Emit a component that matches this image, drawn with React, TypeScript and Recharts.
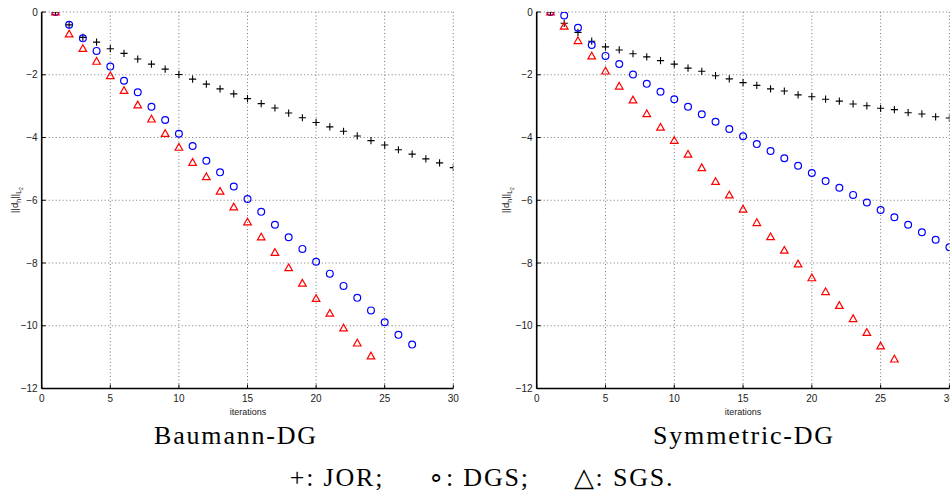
import React from 'react';
import { ScatterChart, Scatter, XAxis, YAxis, CartesianGrid } from 'recharts';

// ---------- data ----------
const iterations = [1, 2, 3, 4, 5, 6, 7, 8, 9, 10, 11, 12, 13, 14, 15, 16, 17, 18, 19, 20, 21, 22, 23, 24, 25, 26, 27, 28, 29, 30];

const baumannJOR = [0, -0.41, -0.81, -0.96, -1.17, -1.32, -1.5, -1.66, -1.82, -1.99, -2.14, -2.3, -2.45, -2.61, -2.76, -2.92, -3.06, -3.22, -3.37, -3.52, -3.66, -3.8, -3.95, -4.1, -4.24, -4.39, -4.53, -4.68, -4.81, -4.96];
const baumannDGS = [0, -0.41, -0.84, -1.24, -1.74, -2.19, -2.56, -3.02, -3.44, -3.88, -4.27, -4.74, -5.11, -5.56, -5.96, -6.37, -6.78, -7.18, -7.55, -7.96, -8.34, -8.73, -9.11, -9.51, -9.89, -10.29, -10.6];
const baumannSGS = [0, -0.7, -1.16, -1.57, -2.03, -2.5, -2.96, -3.41, -3.87, -4.31, -4.79, -5.25, -5.71, -6.21, -6.69, -7.17, -7.66, -8.15, -8.64, -9.13, -9.6, -10.07, -10.55, -10.96];

const symmetricJOR = [0, -0.36, -0.65, -0.93, -1.11, -1.21, -1.33, -1.43, -1.55, -1.66, -1.79, -1.89, -2.03, -2.13, -2.25, -2.34, -2.45, -2.52, -2.64, -2.7, -2.78, -2.84, -2.93, -2.99, -3.07, -3.11, -3.21, -3.25, -3.34, -3.38];
const symmetricDGS = [0, -0.11, -0.5, -1.05, -1.4, -1.66, -1.99, -2.29, -2.54, -2.78, -3.02, -3.26, -3.5, -3.73, -3.96, -4.21, -4.43, -4.66, -4.9, -5.13, -5.39, -5.6, -5.83, -6.07, -6.31, -6.54, -6.78, -7.02, -7.26, -7.5];
const symmetricSGS = [0, -0.45, -0.91, -1.4, -1.88, -2.36, -2.8, -3.24, -3.67, -4.09, -4.53, -4.96, -5.4, -5.83, -6.28, -6.71, -7.16, -7.59, -8.03, -8.47, -8.91, -9.35, -9.77, -10.21, -10.64, -11.06];

const xTicks = [0, 5, 10, 15, 20, 25, 30];
const yTicks = [-12, -10, -8, -6, -4, -2, 0];
const xDomain = [0, 30];
const yDomain = [-12, 0];

const panelTitles = ['Baumann-DG', 'Symmetric-DG'];
const xLabel = 'iterations';

// ---------- styling ----------
const FONT = '"Liberation Sans", Arial, Helvetica, sans-serif';
const SERIF = '"Liberation Serif", "Times New Roman", serif';
const TL = 4;
const AXIS_W = 1.6;

const fmt = (v: number) => (v < 0 ? '\u2212' + -v : String(v));

const toPoints = (vals: number[]) => vals.map((v, i) => ({ x: iterations[i], y: v }));

const BottomTick = (p: any) => (
  <g>
    <line x1={p.x} y1={p.y} x2={p.x} y2={p.y - TL} stroke="#000" strokeWidth={1} />
    <text x={p.x} y={p.y + 13} textAnchor="middle" fontSize={10} fontFamily={FONT} fill="#222">
      {fmt(p.payload.value)}
    </text>
  </g>
);
const TopTick = (p: any) => (
  <line x1={p.x} y1={p.y} x2={p.x} y2={p.y + TL} stroke="#000" strokeWidth={1} />
);
const LeftTick = (p: any) => (
  <g>
    <line x1={p.x} y1={p.y} x2={p.x + TL} y2={p.y} stroke="#000" strokeWidth={1} />
    <text x={p.x - 4} y={p.y + 3.6} textAnchor="end" fontSize={10} fontFamily={FONT} fill="#222">
      {fmt(p.payload.value)}
    </text>
  </g>
);
const RightTick = (p: any) => (
  <line x1={p.x} y1={p.y} x2={p.x - TL} y2={p.y} stroke="#000" strokeWidth={1} />
);

const PlusShape = (p: any) => {
  const { cx, cy } = p;
  const s = 3.6;
  return <path d={`M${cx - s},${cy}H${cx + s}M${cx},${cy - s}V${cy + s}`} stroke="#000" strokeWidth={1.1} fill="none" />;
};
const CircleShape = (p: any) => (
  <circle cx={p.cx} cy={p.cy} r={3.4} stroke="#0000ff" strokeWidth={1.2} fill="none" />
);
const TriangleShape = (p: any) => {
  const { cx, cy } = p;
  return (
    <polygon
      points={`${cx},${cy - 3.7} ${cx - 3.8},${cy + 3} ${cx + 3.8},${cy + 3}`}
      stroke="#ff0000"
      strokeWidth={1.2}
      fill="none"
    />
  );
};

const CHART_W = 470;
const CHART_H = 420;

function Panel(props: { left: number; marginLeft: number; marginRight: number; jor: number[]; dgs: number[]; sgs: number[] }) {
  const { left, marginLeft, marginRight, jor, dgs, sgs } = props;
  return (
    <div style={{ position: 'absolute', left, top: 0 }}>
      <ScatterChart
        width={CHART_W}
        height={CHART_H}
        margin={{ top: 12, right: marginRight, bottom: 11.5, left: marginLeft }}
      >
        <CartesianGrid xAxisId="b" yAxisId="l" stroke="#777" strokeDasharray="1 2.5" strokeWidth={1} />
        <XAxis
          xAxisId="b"
          dataKey="x"
          type="number"
          orientation="bottom"
          domain={xDomain}
          ticks={xTicks}
          interval={0}
          height={20}
          tickSize={0}
          tickMargin={0}
          tickLine={false}
          tick={<BottomTick />}
          axisLine={{ stroke: '#000', strokeWidth: AXIS_W }}
          allowDataOverflow
        />
        <XAxis
          xAxisId="t"
          type="number"
          orientation="top"
          domain={xDomain}
          ticks={xTicks}
          interval={0}
          height={0}
          tickSize={0}
          tickMargin={0}
          tickLine={false}
          tick={<TopTick />}
          axisLine={{ stroke: '#000', strokeWidth: AXIS_W }}
          allowDataOverflow
        />
        <YAxis
          yAxisId="l"
          dataKey="y"
          type="number"
          orientation="left"
          domain={yDomain}
          ticks={yTicks}
          interval={0}
          width={30}
          tickSize={0}
          tickMargin={0}
          tickLine={false}
          tick={<LeftTick />}
          axisLine={{ stroke: '#000', strokeWidth: AXIS_W }}
          allowDataOverflow
        />
        <YAxis
          yAxisId="r"
          type="number"
          orientation="right"
          domain={yDomain}
          ticks={yTicks}
          interval={0}
          width={0}
          tickSize={0}
          tickMargin={0}
          tickLine={false}
          tick={<RightTick />}
          axisLine={{ stroke: '#000', strokeWidth: AXIS_W }}
          allowDataOverflow
        />
        <Scatter xAxisId="b" yAxisId="l" name="JOR" data={toPoints(jor)} shape={<PlusShape />} isAnimationActive={false} />
        <Scatter xAxisId="b" yAxisId="l" name="DGS" data={toPoints(dgs)} shape={<CircleShape />} isAnimationActive={false} />
        <Scatter xAxisId="b" yAxisId="l" name="SGS" data={toPoints(sgs)} shape={<TriangleShape />} isAnimationActive={false} />
      </ScatterChart>
    </div>
  );
}

const YLabel = ({ x }: { x: number }) => (
  <div
    style={{
      position: 'absolute',
      left: x,
      top: 200,
      transform: 'translate(-50%, -50%) rotate(-90deg)',
      fontFamily: FONT,
      fontSize: 9.5,
      lineHeight: 1,
      whiteSpace: 'nowrap',
      color: '#222',
    }}
  >
    ||d<sub style={{ fontSize: 7, verticalAlign: '-3px' }}>h</sub>||
    <sub style={{ fontSize: 7, verticalAlign: '-3px' }}>
      L<sub style={{ fontSize: 5, verticalAlign: '-2px' }}>2</sub>
    </sub>
  </div>
);

const XLabel = ({ cx }: { cx: number }) => (
  <div
    style={{
      position: 'absolute',
      left: cx,
      top: 412,
      transform: 'translate(-50%, -50%)',
      fontFamily: FONT,
      fontSize: 9,
      lineHeight: 1,
      whiteSpace: 'nowrap',
      color: '#222',
    }}
  >
    {xLabel}
  </div>
);

const Caption = ({ cx, top, children }: { cx: number; top: number; children: React.ReactNode }) => (
  <div
    style={{
      position: 'absolute',
      left: cx,
      top,
      transform: 'translateX(-50%)',
      fontFamily: SERIF,
      fontSize: 26,
      lineHeight: '26px',
      whiteSpace: 'nowrap',
      color: '#000',
      letterSpacing: 1.8,
    }}
  >
    {children}
  </div>
);

export default function App() {
  return (
    <div style={{ position: 'absolute', left: 0, top: 0, width: 950, height: 494, overflow: 'hidden', background: '#fff' }}>
      <Panel left={0} marginLeft={11.7} marginRight={16.7} jor={baumannJOR} dgs={baumannDGS} sgs={baumannSGS} />
      <Panel left={490} marginLeft={16.7} marginRight={10.6} jor={symmetricJOR} dgs={symmetricDGS} sgs={symmetricSGS} />
      <YLabel x={17} />
      <YLabel x={508} />
      <XLabel cx={248} />
      <XLabel cx={743} />
      <Caption cx={236} top={423}>{panelTitles[0]}</Caption>
      <Caption cx={744} top={423}>{panelTitles[1]}</Caption>
      <Caption cx={482} top={465}>
        <span>+: JOR;</span>
        <span style={{ marginLeft: 44 }}>{'\u2218'}: DGS;</span>
        <span style={{ marginLeft: 44 }}>{'\u25B3'}: SGS.</span>
      </Caption>
    </div>
  );
}
